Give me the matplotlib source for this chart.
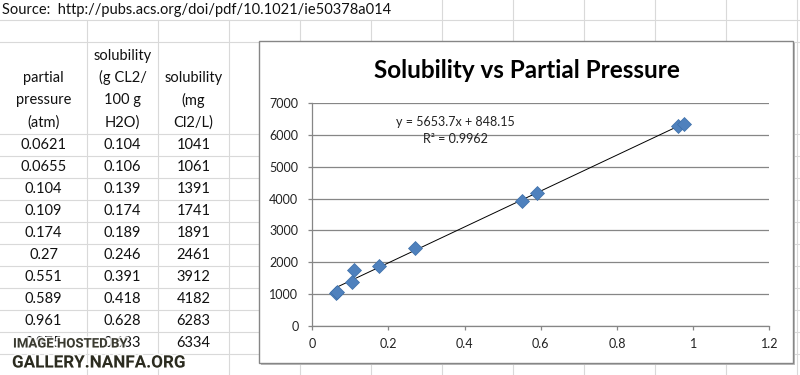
import matplotlib.pyplot as plt
import matplotlib.patheffects as pe
from matplotlib.patches import Rectangle
from matplotlib.ticker import FuncFormatter, MultipleLocator

plt.rcParams['font.family'] = ['Lato', 'DejaVu Sans']

# data, as in the sheet
source_text = 'Source:  http://pubs.acs.org/doi/pdf/10.1021/ie50378a014'
headers = [['partial', 'pressure', '(atm)'],
           ['solubility', '(g CL2/', '100 g', 'H2O)'],
           ['solubility', '(mg', 'Cl2/L)']]
pressure_atm = [0.0621, 0.0655, 0.104, 0.109, 0.174, 0.27, 0.551, 0.589, 0.961, 0.975]
solubility_g = [0.104, 0.106, 0.139, 0.174, 0.189, 0.246, 0.391, 0.418, 0.628, 0.633]
solubility_mg = [1041, 1061, 1391, 1741, 1891, 2461, 3912, 4182, 6283, 6334]

# trendline as printed on the chart
slope, intercept, r2 = 5653.7, 848.15, 0.9962
title = 'Solubility vs Partial Pressure'

W, H = 800, 375
fig = plt.figure(figsize=(W / 100, H / 100), dpi=100)
fig.patch.set_facecolor('white')

# background "spreadsheet" in pixel coords
bg = fig.add_axes([0, 0, 1, 1])
bg.set_xlim(0, W)
bg.set_ylim(H, 0)
bg.axis('off')

grid_c = '#d9d9d9'
col_edges = [87, 158, 229, 300, 371, 442, 513, 584, 655, 726, 797]
row_edges = [20, 42, 134] + [134 + 22 * k for k in range(1, 12)]
for x in col_edges:
    bg.plot([x, x], [20 if x < 420 else 0, H], color=grid_c, lw=0.8)
for y in row_edges:
    bg.plot([0, W], [y, y], color=grid_c, lw=0.8)

bg.text(2, 10, source_text, fontsize=10.5, va='center', ha='left', color='#111111')

col_centers = [43.5, 122.5, 193.5]
for cx, lines in zip(col_centers, headers):
    n = len(lines)
    for i, ln in enumerate(lines):
        bg.text(cx, 122.5 - 22.3 * (n - 1 - i), ln, fontsize=10.5,
                ha='center', va='center', color='#111111')

for i in range(len(pressure_atm)):
    y = 145 + 22 * i
    for cx, v in zip(col_centers, [pressure_atm[i], solubility_g[i], solubility_mg[i]]):
        bg.text(cx, y, str(v), fontsize=10.5, ha='center', va='center', color='#111111')

# watermark (sits over the last row, like in the screenshot)
halo = [pe.withStroke(linewidth=2.5, foreground='white', alpha=0.8)]
bg.text(13, 344, 'IMAGE HOSTED BY', fontsize=9.5, fontweight='bold',
        family=['Liberation Sans Narrow', 'Roboto', 'DejaVu Sans'],
        ha='left', va='center', color='#3a3a30', zorder=5, path_effects=halo)
bg.text(12, 363, 'GALLERY.NANFA.ORG', fontsize=12.3, fontweight='bold',
        family=['Liberation Sans Narrow', 'Roboto', 'DejaVu Sans'],
        ha='left', va='center', color='#2b2b1f', zorder=5, path_effects=halo)

# chart box
bg.add_patch(Rectangle((261, 43), 534, 322, facecolor='#bdbdbd', edgecolor='none', zorder=3))
bg.add_patch(Rectangle((259.3, 41), 533.7, 321.7, facecolor='white',
                       edgecolor='#868686', lw=1, zorder=4))
bg.text(527, 70, title, fontsize=17.5, fontweight='bold', ha='center',
        va='center', color='black', zorder=6)

# plot area
left, right, top, bottom = 312.3, 769.3, 103.3, 325.7
ax = fig.add_axes([left / W, (H - bottom) / H, (right - left) / W, (bottom - top) / H])
ax.set_facecolor('none')
ax.set_xlim(0, 1.2)
ax.set_ylim(0, 7000)
ax.xaxis.set_major_locator(MultipleLocator(0.2))
ax.yaxis.set_major_locator(MultipleLocator(1000))
ax.xaxis.set_major_formatter(FuncFormatter(lambda v, p: f'{v:g}'))
ax.yaxis.set_major_formatter(FuncFormatter(lambda v, p: f'{v:g}'))
for s in ['top', 'right']:
    ax.spines[s].set_visible(False)
for s in ['left', 'bottom']:
    ax.spines[s].set_color('#868686')
    ax.spines[s].set_linewidth(0.9)
ax.grid(axis='y', color='#868686', lw=0.9)
ax.set_axisbelow(True)
ax.tick_params(axis='both', direction='out', length=3, width=0.9, color='#868686',
               labelsize=9, labelcolor='#222222')
ax.tick_params(axis='x', pad=6)
ax.tick_params(axis='y', pad=7)

xs = [min(pressure_atm), max(pressure_atm)]
ax.plot(xs, [slope * x + intercept for x in xs], color='black', lw=0.7, zorder=2)
ax.plot(pressure_atm, solubility_mg, 'D', ms=7.5, color='#4f81bd',
        mec='#3d6fa8', mew=0.5, zorder=3, clip_on=False)

ax.text(0.375, 6150, f'y = {slope}x + {intercept}\nR² = {r2}', fontsize=9,
        ha='center', va='center', linespacing=1.5, color='#222222')

fig.savefig('out.png', dpi=100)
